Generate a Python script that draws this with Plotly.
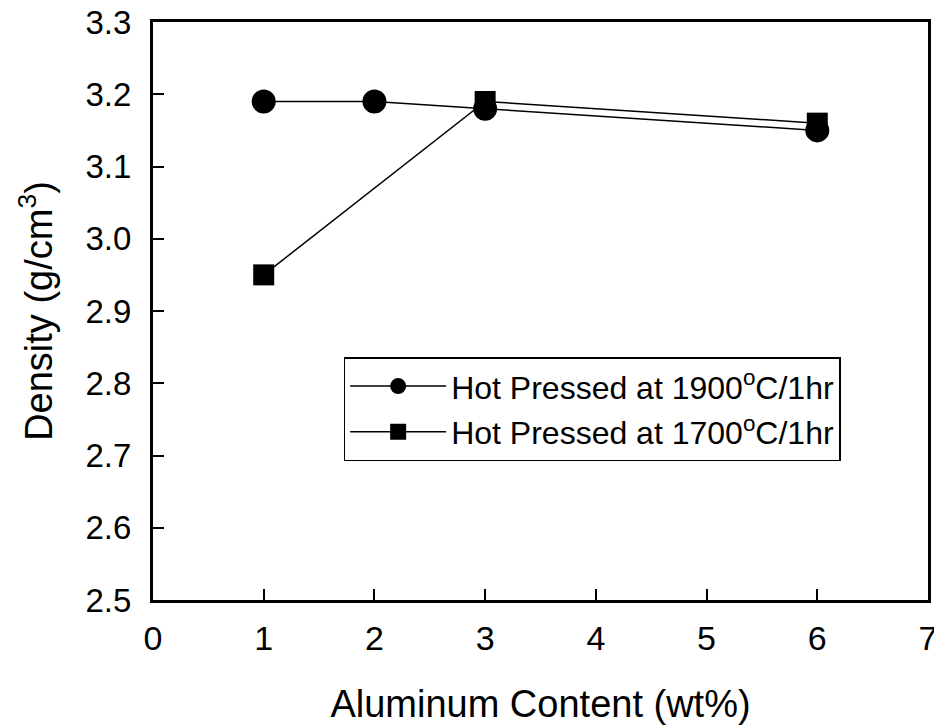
import plotly.graph_objects as go

# Data
al_1900 = [1, 2, 3, 6]
dens_1900 = [3.19, 3.19, 3.18, 3.15]
al_1700 = [1, 3, 6]
dens_1700 = [2.95, 3.19, 3.16]

name_1900 = "Hot Pressed at 1900<sup>o</sup>C/1hr"
name_1700 = "Hot Pressed at 1700<sup>o</sup>C/1hr"

x_ticks = [0, 1, 2, 3, 4, 5, 6, 7]
y_ticks = [2.5, 2.6, 2.7, 2.8, 2.9, 3.0, 3.1, 3.2, 3.3]

FONT = "Liberation Sans, Arial, sans-serif"

fig = go.Figure()
fig.add_trace(go.Scatter(
    x=al_1900, y=dens_1900, mode="lines+markers", name=name_1900,
    legendgroup="a",
    line=dict(color="black", width=1.5),
    marker=dict(symbol="circle", size=24, color="black"),
))
fig.add_trace(go.Scatter(
    x=al_1700, y=dens_1700, mode="lines+markers", name=name_1700,
    legendgroup="b",
    line=dict(color="black", width=1.5),
    marker=dict(symbol="square", size=21, color="black"),
))

# page body has an 8px default margin, so the figure is slightly smaller
fig.update_layout(
    width=934, height=720,
    margin=dict(l=145, r=14, t=14, b=128, autoexpand=False),
    paper_bgcolor="white", plot_bgcolor="white",
    font=dict(family=FONT, color="black"),
    showlegend=True,
    legend=dict(
        x=0.246, y=0.42, xanchor="left", yanchor="top",
        bgcolor="white", bordercolor="black", borderwidth=1.5,
        font=dict(size=32, family=FONT, color="black"),
        tracegroupgap=1,
        itemwidth=96,
    ),
)

fig.update_xaxes(
    range=[0, 7], tickvals=x_ticks, automargin=False,
    showline=True, linewidth=3, linecolor="black", mirror=True,
    ticks="inside", ticklen=11, tickwidth=1.5, tickcolor="black",
    showgrid=False, zeroline=False,
    tickfont=dict(size=34, family=FONT),
    ticklabelstandoff=6, ticklabeloverflow="allow",
    title=dict(text="Aluminum Content (wt%)", font=dict(size=38, family=FONT), standoff=35),
)
fig.update_yaxes(
    range=[2.5, 3.3], tickvals=y_ticks, tickformat=".1f", automargin=False,
    showline=True, linewidth=3, linecolor="black", mirror=True,
    ticks="inside", ticklen=11, tickwidth=1.5, tickcolor="black",
    showgrid=False, zeroline=False,
    tickfont=dict(size=33, family=FONT),
    ticklabelstandoff=12, ticklabeloverflow="allow",
    title=dict(text="Density (g/cm<sup>3</sup>)", font=dict(size=38, family=FONT), standoff=22),
)

fig.write_html("out.html")
